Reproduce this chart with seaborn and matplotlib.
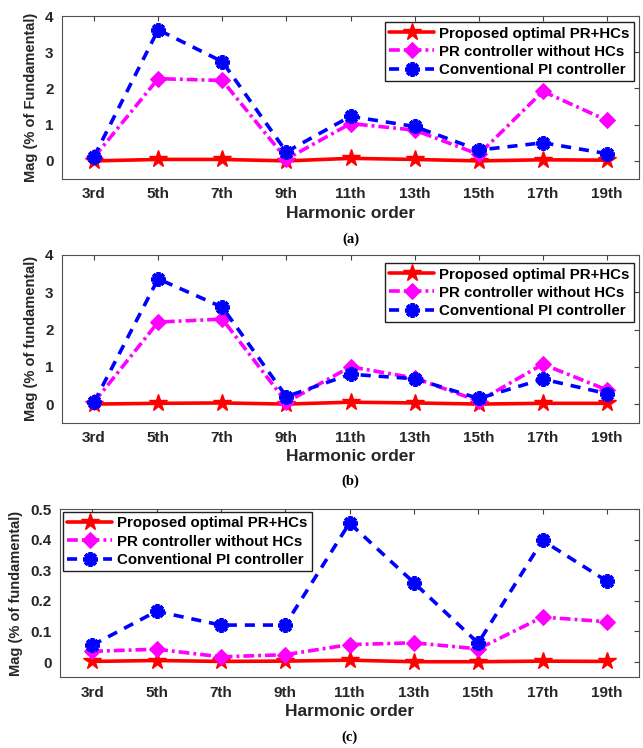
import numpy as np
import pandas as pd
import matplotlib
matplotlib.use("Agg")
import matplotlib.pyplot as plt
import seaborn as sns

# ---- data ----
harmonics = ["3rd", "5th", "7th", "9th", "11th", "13th", "15th", "17th", "19th"]
series_names = ["Proposed optimal PR+HCs", "PR controller without HCs", "Conventional PI controller"]

a_proposed = [0.00, 0.04, 0.04, 0.00, 0.07, 0.04, 0.00, 0.03, 0.02]
a_pr = [0.10, 2.27, 2.22, 0.05, 1.03, 0.85, 0.18, 1.92, 1.12]
a_pi = [0.12, 3.62, 2.74, 0.25, 1.23, 0.95, 0.30, 0.50, 0.20]

b_proposed = [0.00, 0.02, 0.03, 0.00, 0.05, 0.03, 0.00, 0.02, 0.02]
b_pr = [0.05, 2.20, 2.28, 0.05, 1.00, 0.70, 0.08, 1.07, 0.38]
b_pi = [0.05, 3.36, 2.60, 0.20, 0.80, 0.68, 0.15, 0.67, 0.28]

c_proposed = [0.002, 0.005, 0.002, 0.003, 0.006, 0.001, 0.001, 0.003, 0.002]
c_pr = [0.035, 0.042, 0.017, 0.024, 0.057, 0.063, 0.043, 0.147, 0.132]
c_pi = [0.055, 0.166, 0.121, 0.121, 0.455, 0.260, 0.062, 0.398, 0.265]

a_yticks = [0, 1, 2, 3, 4]
c_yticks = [0, 0.1, 0.2, 0.3, 0.4, 0.5]
c_yticklabels = ["0", "0.1", "0.2", "0.3", "0.4", "0.5"]

# ---- style ----
sns.set_theme(style="white")
plt.rcParams["font.family"] = ["Liberation Sans", "DejaVu Sans"]
plt.rcParams["font.weight"] = "bold"
TXT = "#262626"

W, H = 643, 748
fig = plt.figure(figsize=(W / 100, H / 100), dpi=100)


def add_axes(left, top, right, bottom):
    return fig.add_axes([left / W, 1 - bottom / H, (right - left) / W, (bottom - top) / H])


styles = [
    dict(color="#ff0000", linestyle="-", marker="*", markersize=13, markeredgewidth=1,
         markerfacecolor="#ff0000", markeredgecolor="#ff0000", linewidth=2.6),
    dict(color="#ff00ff", linestyle=(0, (3.0, 1.1, 0.8, 1.1)), marker="D", markersize=8.5,
         markerfacecolor="#ff00ff", markeredgecolor="#ff00ff", linewidth=2.6),
    dict(color="#0000ff", linestyle=(0, (2.8, 2.2)), marker=(8, 2, 0), markersize=10.5,
         markeredgewidth=2.8, markerfacecolor="#0000ff", markeredgecolor="#0000ff", linewidth=2.6),
]


def panel(ax, vals, ylim, yticks, yticklabels, ylabel, leg_loc, leg_anchor, tag, tag_y):
    x = np.arange(len(harmonics))
    for name, v, st in zip(series_names, vals, styles):
        df = pd.DataFrame({"x": x, "y": v})
        sns.lineplot(data=df, x="x", y="y", ax=ax, label=name, sort=False, **st)
    ax.set_xlim(-0.5, len(harmonics) - 0.5)
    ax.set_ylim(*ylim)
    ax.set_xticks(x)
    ax.set_xticklabels(harmonics)
    ax.set_yticks(yticks)
    ax.set_yticklabels(yticklabels)
    ax.tick_params(direction="in", top=True, right=True, length=3.5, width=0.8,
                   color="#404040", labelsize=11, labelcolor=TXT, pad=6)
    for lab in ax.get_xticklabels() + ax.get_yticklabels():
        lab.set_fontweight("bold")
    for s in ax.spines.values():
        s.set_color("#505050")
        s.set_linewidth(0.8)
    ax.set_xlabel("Harmonic order", fontsize=12.5, fontweight="bold", color=TXT, labelpad=3)
    ax.set_ylabel(ylabel, fontsize=10.5, fontweight="bold", color=TXT, labelpad=5)
    leg = ax.legend(loc=leg_loc, bbox_to_anchor=leg_anchor, borderaxespad=0,
                    frameon=True, fancybox=False, framealpha=1, edgecolor="#202020",
                    handlelength=3.0, handletextpad=0.3, borderpad=0.3, labelspacing=0.28,
                    prop={"weight": "bold", "size": 10.8})
    leg.get_frame().set_linewidth(1.0)
    for t in leg.get_texts():
        t.set_color("#000000")
    fig.text((ax.get_position().x0 + ax.get_position().x1) / 2, 1 - tag_y / H, tag,
             ha="center", va="center", fontsize=10.5, fontweight="bold",
             family=["Liberation Serif", "DejaVu Serif"], color="#000000")


ax_a = add_axes(62, 16, 639, 179)
panel(ax_a, [a_proposed, a_pr, a_pi], (-0.5, 4), a_yticks, [str(t) for t in a_yticks],
      "Mag (% of Fundamental)", "upper right", (0.991, 0.963), "(a)", 239)

ax_b = add_axes(62, 255, 639, 422.7)
panel(ax_b, [b_proposed, b_pr, b_pi], (-0.5, 4), a_yticks, [str(t) for t in a_yticks],
      "Mag (% of fundamental)", "upper right", (0.991, 0.952), "(b)", 481)

ax_c = add_axes(60, 509.3, 639, 677.3)
panel(ax_c, [c_proposed, c_pr, c_pi], (-0.05, 0.5), c_yticks, c_yticklabels,
      "Mag (% of fundamental)", "upper left", (0.005, 0.984), "(c)", 737)

fig.savefig("out.png", dpi=100)
